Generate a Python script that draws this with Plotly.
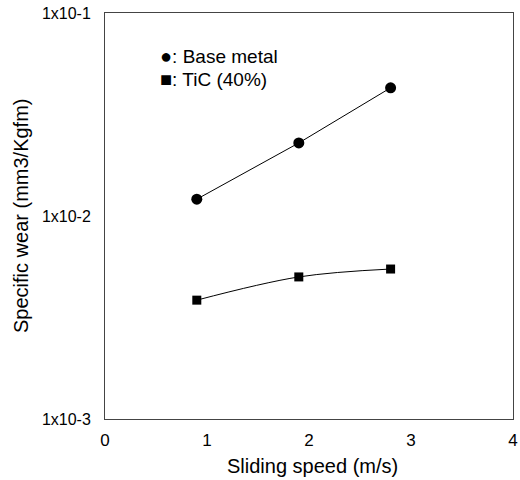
import plotly.graph_objects as go

speed = [0.9, 1.9, 2.8]
base_metal = [0.0121, 0.0229, 0.0428]
tic_40 = [0.00385, 0.00501, 0.00548]
y_tickvals = [0.001, 0.01, 0.1]
y_ticktext = ["1x10-3", "1x10-2", "1x10-1"]
x_tickvals = [0, 1, 2, 3, 4]

font = "Liberation Sans, Arial, sans-serif"

W, H = 520, 480
L, R, T, B = 105, 7, 13, 61
pw = W - L - R
ph = H - T - B


def px(x):
    return (x - L) / pw


def py(y):
    return (H - B - y) / ph


fig = go.Figure()
fig.add_trace(go.Scatter(x=speed, y=base_metal, mode="lines+markers",
                         line=dict(color="black", width=1),
                         marker=dict(symbol="circle", size=11, color="black"),
                         name="Base metal", showlegend=False))
fig.add_trace(go.Scatter(x=speed, y=tic_40, mode="lines+markers",
                         line=dict(color="black", width=1, shape="spline"),
                         marker=dict(symbol="square", size=9, color="black"),
                         name="TiC (40%)", showlegend=False))

fig.add_annotation(x=px(158), y=py(56), xref="paper", yref="paper", xanchor="left",
                   yanchor="middle", showarrow=False,
                   text="<span style='font-size:20px'>●</span>: Base metal",
                   font=dict(family=font, size=19, color="black"))
fig.add_annotation(x=px(158), y=py(79), xref="paper", yref="paper", xanchor="left",
                   yanchor="middle", showarrow=False,
                   text="<span style='font-size:20px'>■</span>: TiC (40%)",
                   font=dict(family=font, size=19, color="black"))

fig.add_annotation(x=px(21), y=0.5, xref="paper", yref="paper", xanchor="center",
                   yanchor="middle", showarrow=False, textangle=-90,
                   text="Specific wear (mm3/Kgfm)",
                   font=dict(family=font, size=20, color="black"))
fig.add_annotation(x=px(312), y=py(466), xref="paper", yref="paper", xanchor="center",
                   yanchor="middle", showarrow=False,
                   text="Sliding speed (m/s)",
                   font=dict(family=font, size=20, color="black"))

fig.update_layout(
    width=W, height=H,
    margin=dict(l=L, r=R, t=T, b=B, autoexpand=False),
    paper_bgcolor="white", plot_bgcolor="white",
    font=dict(family=font, size=16, color="black"),
    xaxis=dict(range=[0, 4], tickvals=x_tickvals, showgrid=False, zeroline=False,
               showline=True, linecolor="#444", linewidth=1, mirror=True,
               ticks="", tickfont=dict(size=17), automargin=False,
               ticklabelstandoff=6, ticklabeloverflow="allow"),
    yaxis=dict(type="log", range=[-3, -1], tickvals=y_tickvals, ticktext=y_ticktext,
               showgrid=False, zeroline=False, showline=True, linecolor="#444",
               linewidth=1, mirror=True, ticks="", tickfont=dict(size=16),
               automargin=False, ticklabelstandoff=10, ticklabeloverflow="allow"),
)

fig.write_html("out.html", config={"displayModeBar": False},
               post_script="document.body.style.margin='0px';")
